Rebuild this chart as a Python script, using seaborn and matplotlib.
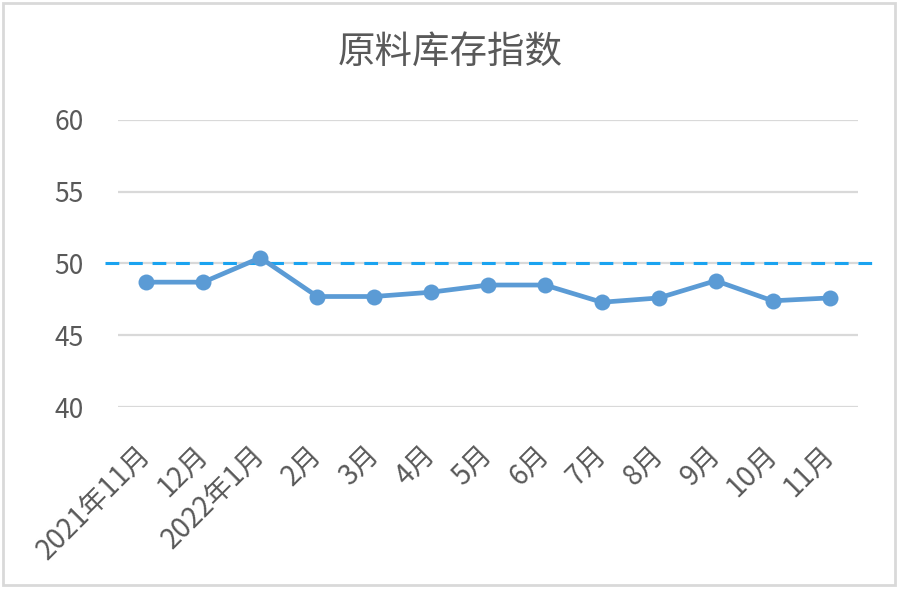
import matplotlib
matplotlib.use("Agg")
import matplotlib.pyplot as plt
import matplotlib.transforms as mtransforms
from matplotlib.patches import Rectangle
import seaborn as sns
import pandas as pd

# ---- data ----
months = ["2021年11月", "12月", "2022年1月", "2月", "3月", "4月", "5月",
          "6月", "7月", "8月", "9月", "10月", "11月"]
values = [48.7, 48.7, 50.4, 47.7, 47.7, 48.0, 48.5, 48.5, 47.3, 47.6, 48.8, 47.4, 47.6]
threshold = 50
y_ticks = [40, 45, 50, 55, 60]
title = "原料库存指数"

sns.set_theme(style="white")
plt.rcParams['font.family'] = ['Noto Sans CJK SC', 'DejaVu Sans']

TXT = "#595959"
LINE = "#5B9BD5"
DASH = "#1AA3F0"
GRID = "#D9D9D9"

df = pd.DataFrame({"pos": range(len(months)), "value": values})

fig = plt.figure(figsize=(9, 5.9), dpi=100)
ax = fig.add_axes([118/900, 1-407/590, 740/900, 287/590])

for y in y_ticks:
    ax.axhline(y, color=GRID, lw=1.6, zorder=0)

# threshold dashed line (extends slightly beyond plot area)
trans = mtransforms.blended_transform_factory(ax.transAxes, ax.transData)
ax.plot([-0.018, 1.023], [threshold, threshold], transform=trans, color=DASH,
        lw=2.2, dashes=(4.5, 3.2), clip_on=False, zorder=2)

sns.lineplot(data=df, x="pos", y="value", ax=ax, color=LINE, lw=3.4,
             marker="o", markersize=11.5, markeredgewidth=0, sort=False,
             zorder=3, clip_on=False)

ax.set_xlim(-0.5, len(months) - 0.5)
ax.set_ylim(40, 60)
ax.set_xticks(range(len(months)))
ax.set_xticklabels(months, rotation=45, ha="right", va="center",
                   rotation_mode="anchor", fontsize=20, color=TXT)
ax.set_yticks(y_ticks)
ax.set_yticklabels([str(t) for t in y_ticks], fontsize=19, color=TXT)
ax.tick_params(axis="x", length=0, pad=31)
ax.tick_params(axis="y", length=0, pad=25)
ax.set_xlabel("")
ax.set_ylabel("")
for s in ax.spines.values():
    s.set_visible(False)

fig.text(0.5, 1-52/590, title, ha="center", va="center", fontsize=27, color=TXT)

fig.patches.append(Rectangle((3/900, 5/590), 892/900, 582/590, transform=fig.transFigure,
                             fill=False, edgecolor="#D9D9D9", lw=2))

fig.savefig("out.png", dpi=100)
